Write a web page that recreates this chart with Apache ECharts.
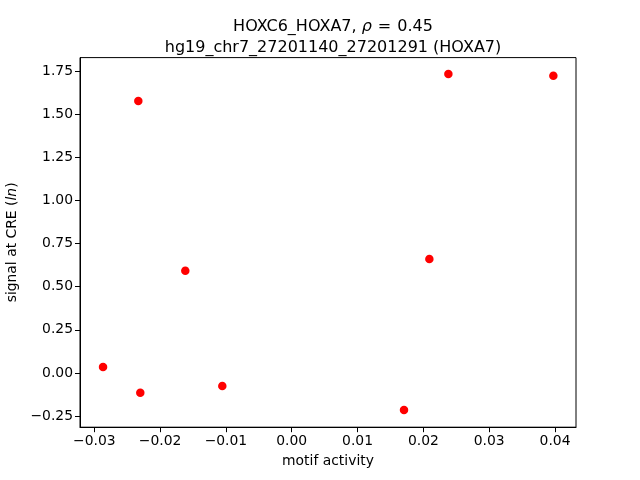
<!DOCTYPE html>
<html><head><meta charset="utf-8">
<script src="https://cdn.jsdelivr.net/npm/echarts@6/dist/echarts.min.js"></script>
<style>html,body{margin:0;padding:0;background:#fff}#c{width:640px;height:480px}</style>
</head><body><div id="c"></div>
<script>
const motifActivity = [-0.02867, -0.02331, -0.02301, -0.01617, -0.01055, 0.01706, 0.02091, 0.02380, 0.03975];
const signalAtCRE   = [0.035, 1.577, -0.114, 0.593, -0.075, -0.214, 0.661, 1.733, 1.723];
const xTicks = [-0.03, -0.02, -0.01, 0.00, 0.01, 0.02, 0.03, 0.04];
const yTicks = [-0.25, 0.00, 0.25, 0.50, 0.75, 1.00, 1.25, 1.50, 1.75];
const titleLine1 = 'HOXC6_HOXA7, {i|ρ}{e|=}0.45';
const titleLine2 = 'hg19_chr7_27201140_27201291 (HOXA7)';

const FONT = 'DejaVu Sans';
const fmt = (v, d) => { const s = Math.abs(v).toFixed(d); return (v < -1e-12 ? '\u2212' : '') + s; };

const chart = echarts.init(document.getElementById('c'), null, {renderer: 'canvas'});
chart.setOption({
  animation: false,
  backgroundColor: '#fff',
  title: {
    text: titleLine1 + '\n' + titleLine2,
    left: 328, top: 11, textAlign: 'center',
    textStyle: {
      fontFamily: FONT, fontSize: 16, fontWeight: 'normal', color: '#000', lineHeight: 21,
      rich: {
        i: { fontFamily: FONT, fontSize: 16, fontStyle: 'italic', color: '#000', lineHeight: 21 },
        e: { fontFamily: FONT, fontSize: 16, color: '#000', padding: [0, 6, 0, 6], lineHeight: 21 }
      }
    }
  },
  grid: { left: 80, right: 64, top: 57.6, bottom: 52.8, show: true, borderColor: '#000', borderWidth: 1,
          backgroundColor: 'transparent', containLabel: false, outerBoundsMode: 'none' },
  xAxis: {
    type: 'value', min: -0.03217, max: 0.04319,
    name: 'motif activity', nameLocation: 'middle', nameGap: 27,
    nameTextStyle: { fontFamily: FONT, fontSize: 13.9, color: '#000' },
    axisLine: { show: true, onZero: false, lineStyle: { color: '#000', width: 1 } },
    axisTick: { show: true, inside: false, length: 5, customValues: xTicks, lineStyle: { color: '#000', width: 1 } },
    axisLabel: { customValues: xTicks, formatter: v => fmt(v, 2), fontFamily: FONT, fontSize: 13.9, color: '#000', margin: 7 },
    splitLine: { show: false }
  },
  yAxis: {
    type: 'value', min: -0.3142, max: 1.8284,
    name: 'signal at CRE ({i|ln})', nameLocation: 'middle', nameGap: 60, nameRotate: 90,
    nameTextStyle: { fontFamily: FONT, fontSize: 13.9, color: '#000',
      rich: { i: { fontFamily: FONT, fontSize: 13.9, fontStyle: 'italic', color: '#000' } } },
    axisLine: { show: true, onZero: false, lineStyle: { color: '#000', width: 1 } },
    axisTick: { show: true, inside: false, length: 5, customValues: yTicks, lineStyle: { color: '#000', width: 1 } },
    axisLabel: { customValues: yTicks, formatter: v => fmt(v, 2), fontFamily: FONT, fontSize: 13.9, color: '#000', margin: 7 },
    splitLine: { show: false }
  },
  series: [{
    type: 'scatter',
    data: motifActivity.map((x, i) => [x, signalAtCRE[i]]),
    symbol: 'circle', symbolSize: 8.5,
    itemStyle: { color: '#ff0000', opacity: 1 }
  }]
});
</script></body></html>
